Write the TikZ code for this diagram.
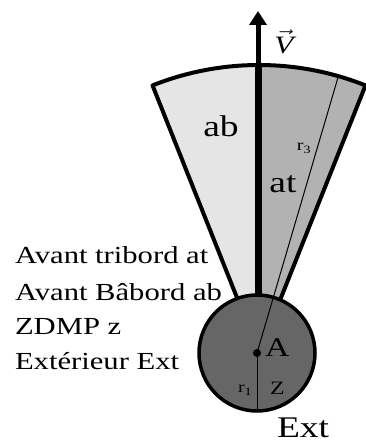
\documentclass[tikz,border=0pt]{standalone}
\usepackage{fontspec}
\setmainfont{Liberation Serif}
\usepackage{tikz}
\usetikzlibrary{arrows.meta}
\definecolor{abgray}{gray}{0.90}
\definecolor{atgray}{gray}{0.70}
\definecolor{zgray}{gray}{0.40}

\begin{document}
\begin{tikzpicture}[x=1pt, y=1pt, inner sep=0pt, outer sep=0pt]
  \tikzstyle{lbl}=[xscale=1.25, transform shape, text=black]
  \tikzstyle{big}=[lbl, font=\fontsize{30}{36}\selectfont]
  \tikzstyle{legend}=[lbl, anchor=base west, font=\fontsize{24.5}{30}\selectfont]
  \tikzstyle{small}=[lbl, font=\fontsize{16}{19}\selectfont]
  \tikzstyle{border}=[line width=4pt, line join=round]

  \useasboundingbox (0,0) rectangle (365,444);

  \coordinate (O) at (259,91);
  \coordinate (A) at (257,91);
  \coordinate (cbot) at (258,120);
  \coordinate (atop) at (258,379);
  \coordinate (tip) at (258,433);
  \coordinate (rbot) at (257,33);
  \path (O) ++(74:288) coordinate (r3end);

  % secteur avant
  \fill[abgray] (O) -- ++(111.7:288) arc[start angle=111.7, end angle=90, radius=288] -- cycle;
  \fill[atgray] (O) -- ++(90:288) arc[start angle=90, end angle=68.3, radius=288] -- cycle;
  \draw[border] (O) -- ++(111.7:288) arc[start angle=111.7, end angle=68.3, radius=288] -- cycle;

  \draw[line width=7pt] (cbot) -- (atop);
  \draw[line width=5pt, -{Triangle[width=17pt,length=14pt]}] (atop) -- (tip);

  % ZDMP
  \draw[line width=3.5pt, fill=zgray] (A) circle[radius=58];
  \draw[line width=1pt] (A) -- (r3end);
  \draw[line width=1pt] (A) -- (rbot);
  \fill (A) circle[radius=4];

  \node[big] (ab) at (221,318) {ab};
  \node[big] (at) at (283,260) {at};
  \node[small] (r3) at (304,296) {r\textsubscript{3}};
  \node[lbl, anchor=base west, font=\fontsize{27}{32}\selectfont] (Alab) at (265,87) {A};
  \node[lbl, anchor=base west, font=\fontsize{19}{23}\selectfont] (z) at (270,49) {Z};
  \node[small, anchor=base west] (r1) at (238,51) {r\textsubscript{1}};
  \node[big, anchor=base west] (ext) at (277,6) {Ext};
  \node[lbl, font=\fontsize{25}{30}\selectfont] (V) at (284,402) {$\vec{\textit{V}}$};

  \node[legend] (l1) at (15,180) {Avant tribord at};
  \node[legend] (l2) at (15,143) {Avant Bâbord ab};
  \node[legend] (l3) at (15,109) {ZDMP z};
  \node[legend] (l4) at (15,74)  {Extérieur Ext};
\end{tikzpicture}
\end{document}
